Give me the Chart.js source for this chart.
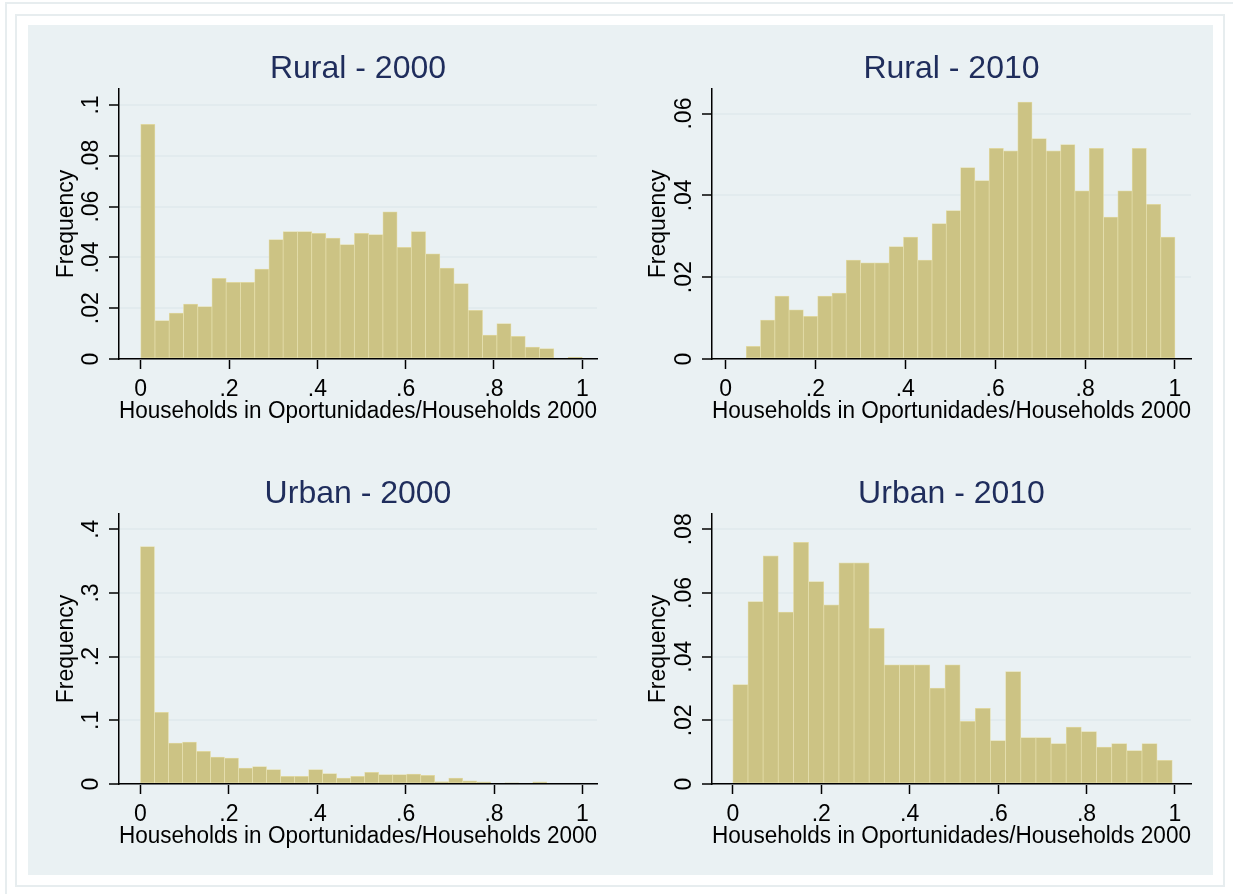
<!DOCTYPE html>
<html>
<head>
<meta charset="utf-8">
<script src="https://cdn.jsdelivr.net/npm/chart.js@4.4.1/dist/chart.umd.min.js"></script>
<style>
  html, body { margin: 0; padding: 0; background: #ffffff; }
  body { width: 1233px; height: 894px; position: relative; overflow: hidden; }
  .frame { position: absolute; box-sizing: border-box; border: 2px solid #E7EDEF; }
  #outer { left: 5px; top: 2px; width: 1260px; height: 920px; }
  #inner { left: 15px; top: 14px; width: 1210px; height: 873px; }
  #bg { position: absolute; left: 28px; top: 25px; width: 1185px; height: 850px; background: #EAF1F3; }
  canvas { position: absolute; }
</style>
</head>
<body>
<div id="outer" class="frame"></div>
<div id="inner" class="frame"></div>
<div id="bg"></div>
<canvas id="c1" width="593" height="425" style="left:28px;top:25px;"></canvas>
<canvas id="c2" width="593" height="425" style="left:620px;top:25px;"></canvas>
<canvas id="c3" width="593" height="425" style="left:28px;top:450px;"></canvas>
<canvas id="c4" width="593" height="425" style="left:620px;top:450px;"></canvas>
<script>
// ---------------- DATA ----------------
const panelTitles = ['Rural - 2000', 'Rural - 2010', 'Urban - 2000', 'Urban - 2010'];
const xAxisTitle = 'Households in Oportunidades/Households 2000';
const yAxisTitle = 'Frequency';

// histogram bin heights (frequency)
const rural2000 = [0.0924, 0.0151, 0.0181, 0.0216, 0.0206, 0.0318, 0.0302, 0.0302, 0.0354, 0.0470,
                   0.0502, 0.0502, 0.0495, 0.0476, 0.0450, 0.0495, 0.0490, 0.0579, 0.0440, 0.0502,
                   0.0414, 0.0358, 0.0297, 0.0192, 0.0094, 0.0139, 0.0089, 0.0047, 0.0041, 0.0000,
                   0.0007];
const rural2010 = [0.0031, 0.0095, 0.0154, 0.0120, 0.0104, 0.0154, 0.0161, 0.0242, 0.0235, 0.0235,
                   0.0275, 0.0298, 0.0242, 0.0331, 0.0363, 0.0468, 0.0436, 0.0515, 0.0509, 0.0628,
                   0.0539, 0.0509, 0.0524, 0.0411, 0.0515, 0.0347, 0.0411, 0.0515, 0.0378, 0.0298];
const urban2000 = [0.3728, 0.1124, 0.0643, 0.0659, 0.0512, 0.0424, 0.0408, 0.0251, 0.0272, 0.0225,
                   0.0120, 0.0120, 0.0225, 0.0162, 0.0094, 0.0120, 0.0183, 0.0146, 0.0146, 0.0157,
                   0.0136, 0.0037, 0.0092, 0.0050, 0.0034, 0.0000, 0.0018, 0.0000, 0.0034];
const urban2010 = [0.0312, 0.0573, 0.0717, 0.0540, 0.0759, 0.0636, 0.0563, 0.0695, 0.0695, 0.0489,
                   0.0374, 0.0374, 0.0374, 0.0301, 0.0374, 0.0197, 0.0238, 0.0136, 0.0353, 0.0146,
                   0.0146, 0.0127, 0.0179, 0.0165, 0.0116, 0.0127, 0.0105, 0.0127, 0.0074];

// bin definitions (first bin edge and bin width) per panel
const binStarts = [0, 0.046, 0, 0];
const binWidths = [1 / 31, 0.0318, 0.0317, 0.03427];

// tick values and labels
const xTickValues = [0, 0.2, 0.4, 0.6, 0.8, 1];
const xTickLabels = ['0', '.2', '.4', '.6', '.8', '1'];
const yTicksRural2000 = [0, 0.02, 0.04, 0.06, 0.08, 0.1];
const yLabelsRural2000 = ['0', '.02', '.04', '.06', '.08', '.1'];
const yTicksRural2010 = [0, 0.02, 0.04, 0.06];
const yLabelsRural2010 = ['0', '.02', '.04', '.06'];
const yTicksUrban2000 = [0, 0.1, 0.2, 0.3, 0.4];
const yLabelsUrban2000 = ['0', '.1', '.2', '.3', '.4'];
const yTicksUrban2010 = [0, 0.02, 0.04, 0.06, 0.08];
const yLabelsUrban2010 = ['0', '.02', '.04', '.06', '.08'];

// ---------------- STYLE ----------------
const FONT = '"Liberation Sans", Arial, Helvetica, sans-serif';
const TITLE_COLOR = '#1F2D5C';
const BAR_FILL = '#CCC384';
const BAR_EDGE = '#E4DDA9';
const GRID_COLOR = '#E2EBEE';
const TICK_FONT = 23;
const AXIS_TITLE_FONT = 23;
Chart.defaults.font.family = FONT;

function measure(text, size) {
  const c = document.createElement('canvas').getContext('2d');
  c.font = size + 'px ' + FONT;
  return c.measureText(text).width;
}

function makeChart(id, cfg) {
  const points = cfg.values.map((v, i) => ({ x: cfg.start + (i + 0.5) * cfg.width, y: v }));
  const widest = Math.max(...cfg.yLabels.map(l => measure(l, TICK_FONT)));
  const yPad = Math.max(0, 27.3 - 10 - widest / 2);
  return new Chart(document.getElementById(id), {
    type: 'bar',
    data: {
      datasets: [{
        data: points,
        backgroundColor: BAR_FILL,
        borderColor: BAR_EDGE,
        borderWidth: 0.75,
        borderSkipped: false,
        barPercentage: 1,
        categoryPercentage: 1
      }]
    },
    options: {
      responsive: false,
      animation: false,
      devicePixelRatio: 1,
      layout: { padding: { left: 0, top: 0, right: cfg.rightPad, bottom: 11 } },
      plugins: {
        legend: { display: false },
        tooltip: { enabled: false },
        title: {
          display: true,
          text: cfg.title,
          color: TITLE_COLOR,
          fullSize: false,
          font: { family: FONT, size: 32, weight: 'normal' },
          padding: { top: 25.3, bottom: 0.3 }
        }
      },
      scales: {
        x: {
          type: 'linear',
          min: cfg.xmin,
          max: cfg.xmax,
          offset: false,
          afterBuildTicks: s => { s.ticks = xTickValues.map(v => ({ value: v })); },
          afterFit: s => { s.height = 80; },
          ticks: {
            autoSkip: false,
            maxRotation: 0,
            minRotation: 0,
            color: '#000',
            padding: 6.5,
            font: { family: FONT, size: TICK_FONT },
            callback: (v, i) => xTickLabels[i]
          },
          grid: {
            display: true,
            offset: false,
            drawOnChartArea: false,
            drawTicks: true,
            tickLength: 10,
            tickWidth: 1.5,
            tickColor: '#000'
          },
          border: { display: true, color: '#000', width: 1.5, z: 1 },
          title: {
            display: true,
            text: xAxisTitle,
            color: '#000',
            font: { family: FONT, size: AXIS_TITLE_FONT },
            padding: { top: 0, bottom: 13.8 }
          }
        },
        y: {
          type: 'linear',
          min: 0,
          max: cfg.ymax,
          afterBuildTicks: s => { s.ticks = cfg.yTicks.map(v => ({ value: v })); },
          afterFit: s => { s.width = cfg.yWidth; },
          ticks: {
            autoSkip: false,
            minRotation: 90,
            maxRotation: 90,
            crossAlign: 'center',
            padding: yPad,
            color: '#000',
            font: { family: FONT, size: TICK_FONT },
            callback: (v, i) => cfg.yLabels[i]
          },
          grid: {
            color: GRID_COLOR,
            lineWidth: 2,
            drawTicks: true,
            tickLength: 10,
            tickWidth: 1.5,
            tickColor: '#000'
          },
          border: { display: true, color: '#000', width: 1.5, z: 1 },
          title: {
            display: true,
            text: yAxisTitle,
            color: '#000',
            font: { family: FONT, size: AXIS_TITLE_FONT },
            padding: { top: 25, bottom: 0 }
          }
        }
      }
    }
  });
}

makeChart('c1', { title: panelTitles[0], values: rural2000, start: binStarts[0], width: binWidths[0],
  yTicks: yTicksRural2000, yLabels: yLabelsRural2000, xmin: -0.0492, xmax: 1.0333, ymax: 0.1063,
  yWidth: 91, rightPad: 24 });
makeChart('c2', { title: panelTitles[1], values: rural2010, start: binStarts[1], width: binWidths[1],
  yTicks: yTicksRural2010, yLabels: yLabelsRural2010, xmin: -0.0301, xmax: 1.0356, ymax: 0.0660,
  yWidth: 92, rightPad: 22 });
makeChart('c3', { title: panelTitles[2], values: urban2000, start: binStarts[2], width: binWidths[2],
  yTicks: yTicksUrban2000, yLabels: yLabelsUrban2000, xmin: -0.0486, xmax: 1.0330, ymax: 0.4240,
  yWidth: 91, rightPad: 24 });
makeChart('c4', { title: panelTitles[3], values: urban2010, start: binStarts[3], width: binWidths[3],
  yTicks: yTicksUrban2010, yLabels: yLabelsUrban2010, xmin: -0.0471, xmax: 1.0362, ymax: 0.0848,
  yWidth: 92, rightPad: 22 });
</script>
</body>
</html>
